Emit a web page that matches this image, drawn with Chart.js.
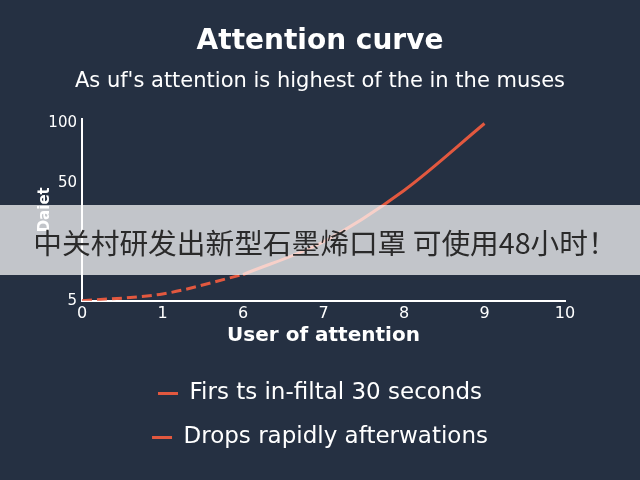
<!DOCTYPE html>
<html>
<head>
<meta charset="utf-8">
<script src="https://cdn.jsdelivr.net/npm/chart.js@4"></script>
<style>
  html, body { margin: 0; padding: 0; background: #253042; }
  #wrap { position: relative; width: 640px; height: 480px; }
  #banner {
    position: absolute; left: 0; top: 205px; width: 640px; height: 70px;
    background: rgba(255, 255, 255, 0.72);
    font-family: "Noto Sans CJK SC", sans-serif; font-size: 28.7px; color: #2a2a2a;
    line-height: 74px; text-align: center; white-space: nowrap;
    box-sizing: border-box; padding-left: 10px;
  }
</style>
</head>
<body>
<div id="wrap">
  <canvas id="attentionChart" width="640" height="480"></canvas>
  <div id="banner">中关村研发出新型石墨烯口罩 可使用48小时！</div>
</div>
<script>
// Chart data
const xLabels = ['0', '1', '6', '7', '8', '9', '10'];
const firstPart = [5, 7.6, 15, null, null, null, null];
const dropPart = [null, null, 15, 27.5, 47, 100, null];
const yTickValues = [5, 50, 100];
const seriesNames = ['Firs ts in-filtal 30 seconds', 'Drops rapidly afterwations'];

const lineColor = '#e2583f';
const textColor = '#ffffff';
const fontFamily = 'DejaVu Sans';

// The y axis is uneven: 5 -> 50 takes two steps, 50 -> 100 one step
function toAxis(v) {
    if (v === null) return null;
    if (v <= 50) return (v - 5) / 45 * 2;
    return 2 + (v - 50) / 50;
}

const ctx = document.getElementById('attentionChart').getContext('2d');

window.attentionChartInstance = new Chart(ctx, {
    type: 'line',
    data: {
        labels: xLabels,
        datasets: [
            {
                label: seriesNames[0],
                data: firstPart.map(toAxis),
                borderColor: lineColor,
                borderWidth: 3,
                borderDash: [10, 5],
                pointRadius: 0,
                cubicInterpolationMode: 'monotone'
            },
            {
                label: seriesNames[1],
                data: dropPart.map(toAxis),
                borderColor: lineColor,
                borderWidth: 3,
                pointRadius: 0,
                cubicInterpolationMode: 'monotone'
            }
        ]
    },
    options: {
        responsive: false,
        animation: false,
        layout: {
            padding: { left: 10, right: 10, top: 0, bottom: 21 }
        },
        plugins: {
            title: {
                display: true,
                text: 'Attention curve',
                color: textColor,
                font: { family: fontFamily, size: 28, weight: 'bold' },
                padding: { top: 25, bottom: 10 }
            },
            subtitle: {
                display: true,
                text: "As uf's attention is highest of the in the muses",
                color: textColor,
                font: { family: fontFamily, size: 21 },
                padding: { bottom: 25 }
            },
            legend: {
                position: 'bottom',
                labels: {
                    color: textColor,
                    font: { family: fontFamily, size: 23 },
                    usePointStyle: true,
                    pointStyle: 'line',
                    pointStyleWidth: 20,
                    padding: 21,
                    generateLabels: function(chart) {
                        return chart.data.datasets.map(function(ds, i) {
                            return {
                                text: ds.label,
                                fontColor: textColor,
                                strokeStyle: lineColor,
                                fillStyle: lineColor,
                                lineWidth: 3,
                                lineDash: [],
                                pointStyle: 'line',
                                datasetIndex: i
                            };
                        });
                    }
                }
            },
            tooltip: { enabled: false }
        },
        scales: {
            x: {
                offset: false,
                grid: { display: false, drawTicks: false },
                border: { color: textColor, width: 2 },
                ticks: {
                    color: textColor,
                    font: { family: fontFamily, size: 16 },
                    padding: 3,
                    maxRotation: 0
                },
                title: {
                    display: true,
                    text: 'User of attention',
                    color: textColor,
                    font: { family: fontFamily, size: 20, weight: 'bold' },
                    padding: { top: -2, bottom: 13 }
                }
            },
            y: {
                min: 0,
                max: 3.08,
                grid: { display: false, drawTicks: false },
                border: { color: textColor, width: 2 },
                afterBuildTicks: function(axis) {
                    axis.ticks = yTickValues.map(function(v) { return { value: toAxis(v) }; });
                },
                afterFit: function(axis) { axis.width = 72; },
                ticks: {
                    color: textColor,
                    font: { family: fontFamily, size: 15 },
                    padding: 5,
                    callback: function(value) {
                        const idx = yTickValues.findIndex(function(v) { return Math.abs(toAxis(v) - value) < 1e-6; });
                        return idx >= 0 ? String(yTickValues[idx]) : '';
                    }
                },
                title: {
                    display: true,
                    text: 'Daiet',
                    color: textColor,
                    font: { family: fontFamily, size: 15, weight: 'bold' },
                    padding: { top: 26, bottom: 2 }
                }
            },
            // empty right-hand axis, only reserves room so the titles stay centred
            yRight: {
                position: 'right',
                grid: { display: false, drawTicks: false },
                border: { display: false },
                ticks: { display: false },
                afterFit: function(axis) { axis.width = 65; }
            }
        }
    }
});
</script>
</body>
</html>
